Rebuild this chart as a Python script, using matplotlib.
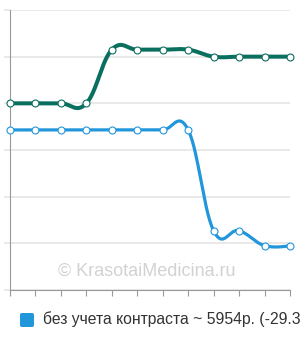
import numpy as np
import matplotlib.pyplot as plt
from matplotlib.patches import FancyBboxPatch

# values (grid units, 0..6)
points = np.arange(12)
green_vals = [4.0, 4.0, 4.0, 4.0, 5.15, 5.15, 5.15, 5.15, 5.0, 5.0, 5.0, 5.0]
blue_vals = [3.43, 3.43, 3.43, 3.43, 3.43, 3.43, 3.43, 3.43, 1.27, 1.27, 0.95, 0.95]
y_ticks = [0, 1, 2, 3, 4, 5, 6]
legend_text = 'без учета контраста ~ 5954р. (-29.3%)'
watermark = '© KrasotaiMedicina.ru'

green = '#0b6f60'
blue = '#2196da'


def spline(x, y, n=30):
    # bezier spline through the points (smoothing 1.5, no clamp)
    x = np.asarray(x, float)
    y = np.asarray(y, float)
    m = len(x)
    lc = np.column_stack([x, y]).copy()
    rc = np.column_stack([x, y]).copy()
    for i in range(1, m - 1):
        lx = (1.5 * x[i] + x[i - 1]) / 2.5
        ly = (1.5 * y[i] + y[i - 1]) / 2.5
        rx = (1.5 * x[i] + x[i + 1]) / 2.5
        ry = (1.5 * y[i] + y[i + 1]) / 2.5
        corr = (ry - ly) * (rx - x[i]) / (rx - lx) + y[i] - ry
        lc[i] = [lx, ly + corr]
        rc[i] = [rx, ry + corr]
    t = np.linspace(0, 1, n)[:, None]
    out = []
    for i in range(m - 1):
        p0 = np.array([x[i], y[i]])
        p3 = np.array([x[i + 1], y[i + 1]])
        p1 = rc[i]
        p2 = lc[i + 1]
        seg = ((1 - t) ** 3) * p0 + 3 * ((1 - t) ** 2) * t * p1 + 3 * (1 - t) * t ** 2 * p2 + t ** 3 * p3
        out.append(seg if i == 0 else seg[1:])
    out = np.vstack(out)
    return out[:, 0], out[:, 1]


plt.rcParams['font.family'] = ['Liberation Sans', 'DejaVu Sans']

fig = plt.figure(figsize=(3.0, 3.4), dpi=100)
ax = fig.add_axes([10 / 300, 1 - 290 / 340, 280 / 300, 280 / 340])

ax.set_xlim(0, 11)
ax.set_ylim(0, 6)
ax.set_yticks(y_ticks)
ax.set_yticklabels([])
ax.set_xticks(points)
ax.set_xticklabels([])
ax.grid(axis='y', color='#e3e3e3', linewidth=1.1)
ax.set_axisbelow(True)
for s in ['top', 'right']:
    ax.spines[s].set_visible(False)
ax.spines['left'].set_color('#999999')
ax.spines['bottom'].set_color('#999999')
ax.tick_params(axis='y', length=4.5, color='#e3e3e3', width=1.1)
ax.tick_params(axis='x', length=4.5, color='#999999', width=0.8)

ax.text(0.49, 0.068, watermark, transform=ax.transAxes, ha='center', va='center',
        fontsize=13, color='#d2d2d2', zorder=1)

gx, gy = spline(points, green_vals)
bx, by = spline(points, blue_vals)
ax.plot(gx, gy, color=green, lw=2.9, zorder=3, solid_capstyle='round', clip_on=False)
ax.plot(bx, by, color=blue, lw=2.3, zorder=3, solid_capstyle='round', clip_on=False)
ax.plot(points, green_vals, 'o', ms=5, mfc='white', mec=green, mew=0.8, zorder=4, clip_on=False)
ax.plot(points, blue_vals, 'o', ms=5, mfc='white', mec=blue, mew=0.8, zorder=4, clip_on=False)

# legend
fig.patches.append(FancyBboxPatch((20 / 300, 1 - 327 / 340), 14 / 300, 14 / 340,
                                  boxstyle='round,pad=0,rounding_size=0.006',
                                  transform=fig.transFigure, facecolor=blue, edgecolor='none'))
fig.text(43 / 300, 1 - 319.5 / 340, legend_text, fontsize=11.3, color='#333333', va='center', ha='left')

fig.savefig('out.png', dpi=100)
